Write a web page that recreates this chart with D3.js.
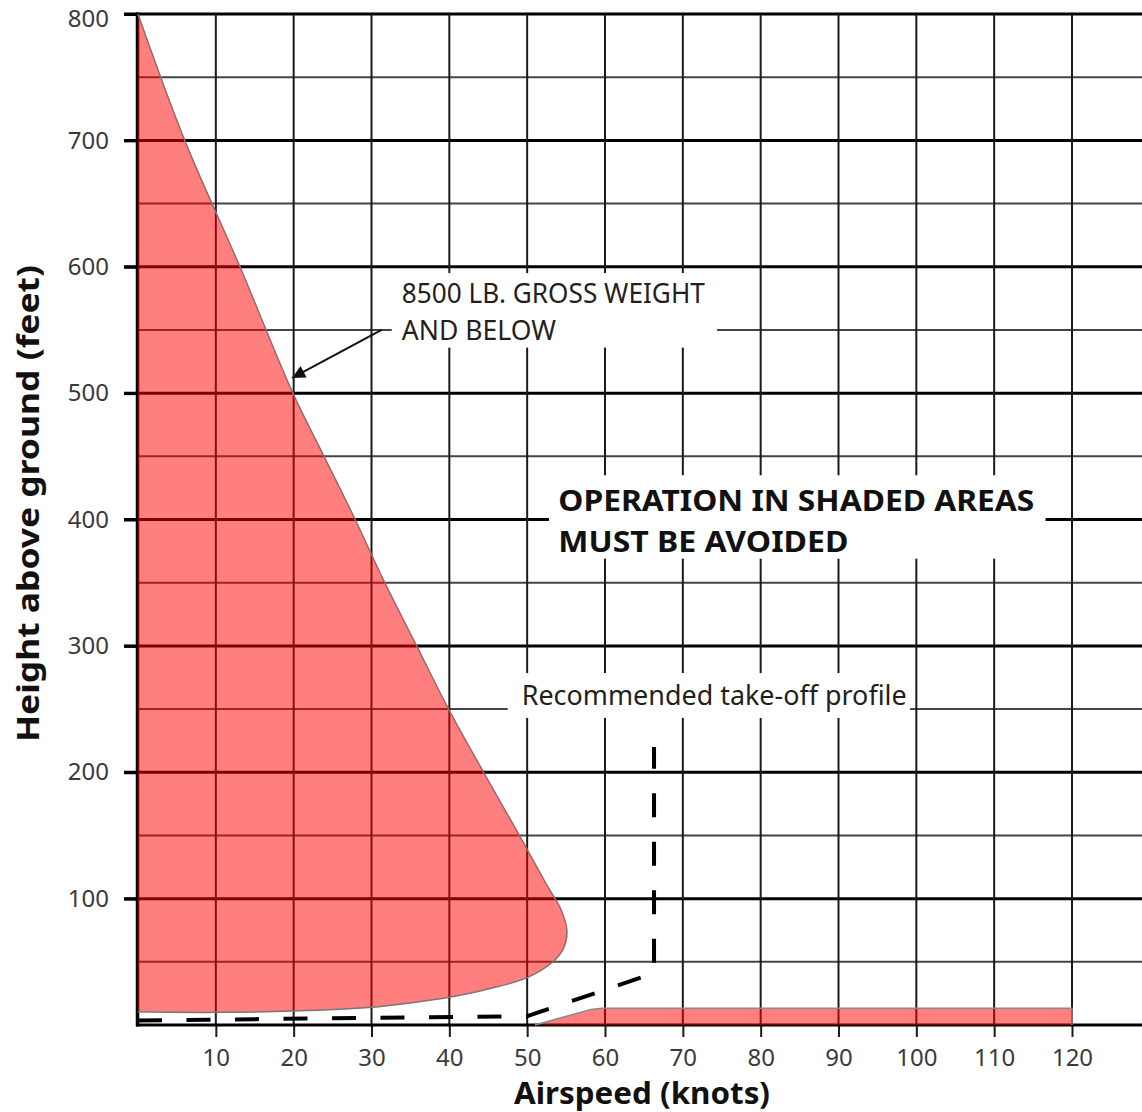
<!DOCTYPE html>
<html>
<head>
<meta charset="utf-8">
<script src="https://cdn.jsdelivr.net/npm/d3@7"></script>
<style>
  html, body { margin: 0; padding: 0; background: #fff; }
  svg { display: block; }
</style>
</head>
<body>
<script>
// ---------------- DATA ----------------
const xTicks = [10, 20, 30, 40, 50, 60, 70, 80, 90, 100, 110, 120];        // knots
const yTicks = [100, 200, 300, 400, 500, 600, 700, 800];                   // feet
const gridX = [10, 20, 30, 40, 50, 60, 70, 80, 90, 100, 110, 120];
const gridY = [50, 100, 150, 200, 250, 300, 350, 400, 450, 500, 550, 600, 650, 700, 750, 800];

// Avoid region (8500 lb gross weight and below): [airspeed knots, height ft]
const avoidHigh = [
  [0, 800], [6, 700], [13.1, 600], [19.9, 500], [23.9, 450], [27.9, 400],
  [31.7, 350], [35.8, 300], [39.9, 250], [44.4, 200], [49.0, 150], [52.6, 110],
  [54.3, 92], [55.1, 75], [54.7, 61], [53.3, 50], [50, 37.5], [45, 28.5],
  [40, 22], [35, 17.5], [30, 14], [20, 11], [10, 10], [0, 10.5]
];
// Low-level high-speed avoid region
const avoidLow = [
  [51, 0], [58.2, 12.3], [59.6, 13.3], [120, 13.3], [120, 0]
];
// Recommended take-off profile
const takeoffProfile = [[0, 3.6], [50, 7], [66.3, 41], [66.3, 220]];

const weightNote = ["8500 LB. GROSS WEIGHT", "AND BELOW"];
const warningNote = ["OPERATION IN SHADED AREAS", "MUST BE AVOIDED"];
const profileNote = "Recommended take-off profile";
const xTitle = "Airspeed (knots)";
const yTitle = "Height above ground (feet)";

// ---------------- LAYOUT ----------------
const W = 1142, H = 1112;
const FONT = "'Noto Sans', 'Open Sans', 'DejaVu Sans', sans-serif";

const x = d3.scaleLinear().domain([0, 120]).range([138, 1072]);
const y = d3.scaleLinear().domain([0, 800]).range([1025, 14]);
const xLeft = x(0), xRight = W;

const svg = d3.select("body").append("svg")
  .attr("width", W).attr("height", H)
  .attr("viewBox", `0 0 ${W} ${H}`);

svg.append("rect").attr("width", W).attr("height", H).attr("fill", "#fff");

// ---------- grid ----------
const grid = svg.append("g");
grid.selectAll("line.h").data(gridY).join("line")
  .attr("class", "h")
  .attr("x1", d => d % 100 === 0 ? xLeft - 14 : xLeft)
  .attr("x2", xRight)
  .attr("y1", d => y(d)).attr("y2", d => y(d))
  .attr("stroke", d => d % 100 === 0 ? "#000" : "#444")
  .attr("stroke-width", d => d % 100 === 0 ? 3 : 2);

grid.selectAll("line.v").data(gridX).join("line")
  .attr("class", "v")
  .attr("x1", d => x(d)).attr("x2", d => x(d))
  .attr("y1", y(800)).attr("y2", y(0))
  .attr("stroke", "#1a1a1a").attr("stroke-width", 2);

// ---------- axes ----------
const xAxis = svg.append("g")
  .attr("transform", `translate(0,${y(0)})`)
  .call(d3.axisBottom(x).tickValues(xTicks).tickSize(12).tickPadding(12));
xAxis.select(".domain").remove();
xAxis.selectAll(".tick line").attr("stroke", "#1a1a1a").attr("stroke-width", 2);
xAxis.selectAll(".tick text")
  .attr("font-family", FONT).attr("font-size", 24).attr("fill", "#3a3a3a");

const yAxis = svg.append("g")
  .attr("transform", `translate(${xLeft},0)`)
  .call(d3.axisLeft(y).tickValues(yTicks).tickSize(14).tickPadding(15));
yAxis.select(".domain").remove();
yAxis.selectAll(".tick line").attr("stroke", "#000").attr("stroke-width", 3);
yAxis.selectAll(".tick text")
  .attr("font-family", FONT).attr("font-size", 24).attr("fill", "#3a3a3a")
  .attr("y", d => d === 800 ? 5 : 0);

// axis frame lines
svg.append("line")
  .attr("x1", xLeft - 0.5).attr("x2", xLeft - 0.5)
  .attr("y1", y(800) - 1.5).attr("y2", y(0) + 1.5)
  .attr("stroke", "#000").attr("stroke-width", 3.5);
svg.append("line")
  .attr("x1", xLeft - 2).attr("x2", xRight)
  .attr("y1", y(0)).attr("y2", y(0))
  .attr("stroke", "#000").attr("stroke-width", 3);

// ---------- white boxes behind annotations ----------
const boxes = [
  { x0: 32.6, x1: 74.4, f0: 536, f1: 595 },   // weight note
  { x0: 52.8, x1: 116.6, f0: 369, f1: 435 },  // warning note
  { x0: 47.5, x1: 99.2, f0: 243, f1: 278.5 }  // profile note
];
svg.append("g").selectAll("rect").data(boxes).join("rect")
  .attr("x", d => x(d.x0)).attr("width", d => x(d.x1) - x(d.x0))
  .attr("y", d => y(d.f1)).attr("height", d => y(d.f0) - y(d.f1))
  .attr("fill", "#fff");

// ---------- shaded regions ----------
const curveLine = d3.line().x(d => x(d[0])).y(d => y(d[1]))
  .curve(d3.curveCatmullRom.alpha(0.5));
const straightLine = d3.line().x(d => x(d[0])).y(d => y(d[1]));

svg.append("path")
  .attr("d", curveLine(avoidHigh) + "Z")
  .attr("fill", "#ff0000").attr("fill-opacity", 0.5).attr("stroke", "none");
svg.append("path")
  .attr("d", curveLine(avoidHigh))
  .attr("fill", "none").attr("stroke", "#777").attr("stroke-width", 1.5);

svg.append("path")
  .attr("d", straightLine(avoidLow) + "Z")
  .attr("fill", "#ff0000").attr("fill-opacity", 0.5).attr("stroke", "none");
svg.append("path")
  .attr("d", straightLine(avoidLow))
  .attr("fill", "none").attr("stroke", "#888").attr("stroke-width", 1.5);

// ---------- take-off profile ----------
svg.append("path")
  .attr("d", straightLine(takeoffProfile))
  .attr("fill", "none").attr("stroke", "#000").attr("stroke-width", 4)
  .attr("stroke-dasharray", "24,24.5");

// ---------- arrow ----------
const defs = svg.append("defs");
defs.append("marker")
  .attr("id", "ah").attr("viewBox", "0 0 10 10")
  .attr("refX", 10).attr("refY", 5)
  .attr("markerWidth", 9).attr("markerHeight", 6.5)
  .attr("markerUnits", "strokeWidth")
  .attr("orient", "auto")
  .append("path").attr("d", "M0,0 L10,5 L0,10 Z").attr("fill", "#111");
svg.append("line")
  .attr("x1", x(31.3)).attr("y1", y(550))
  .attr("x2", x(19.8)).attr("y2", y(512))
  .attr("stroke", "#111").attr("stroke-width", 2)
  .attr("marker-end", "url(#ah)");

// ---------- annotation texts ----------
const tg = svg.append("g").attr("font-family", FONT);
tg.selectAll("text.w").data(weightNote).join("text")
  .attr("class", "w")
  .attr("x", x(33.9)).attr("y", (d, i) => y(i === 0 ? 571 : 542))
  .attr("font-size", 27).attr("fill", "#231f20")
  .attr("textLength", (d, i) => i === 0 ? 303 : 154)
  .attr("lengthAdjust", "spacingAndGlyphs")
  .text(d => d);

tg.selectAll("text.o").data(warningNote).join("text")
  .attr("class", "o")
  .attr("x", x(54)).attr("y", (d, i) => y(i === 0 ? 407 : 374.5))
  .attr("font-size", 28).attr("font-weight", "bold").attr("fill", "#111")
  .attr("textLength", (d, i) => i === 0 ? 476 : 290)
  .attr("lengthAdjust", "spacingAndGlyphs")
  .text(d => d);

tg.append("text")
  .attr("x", x(49.3)).attr("y", y(253))
  .attr("font-size", 27).attr("fill", "#231f20")
  .attr("textLength", 385).attr("lengthAdjust", "spacingAndGlyphs")
  .text(profileNote);

// ---------- axis titles ----------
svg.append("text")
  .attr("x", 514).attr("y", 1104)
  .attr("font-family", FONT).attr("font-size", 30).attr("font-weight", "bold")
  .attr("fill", "#111")
  .attr("textLength", 256).attr("lengthAdjust", "spacingAndGlyphs")
  .text(xTitle);

svg.append("text")
  .attr("transform", "translate(39,742) rotate(-90)")
  .attr("font-family", FONT).attr("font-size", 30).attr("font-weight", "bold")
  .attr("fill", "#111")
  .attr("textLength", 477).attr("lengthAdjust", "spacingAndGlyphs")
  .text(yTitle);
</script>
</body>
</html>
